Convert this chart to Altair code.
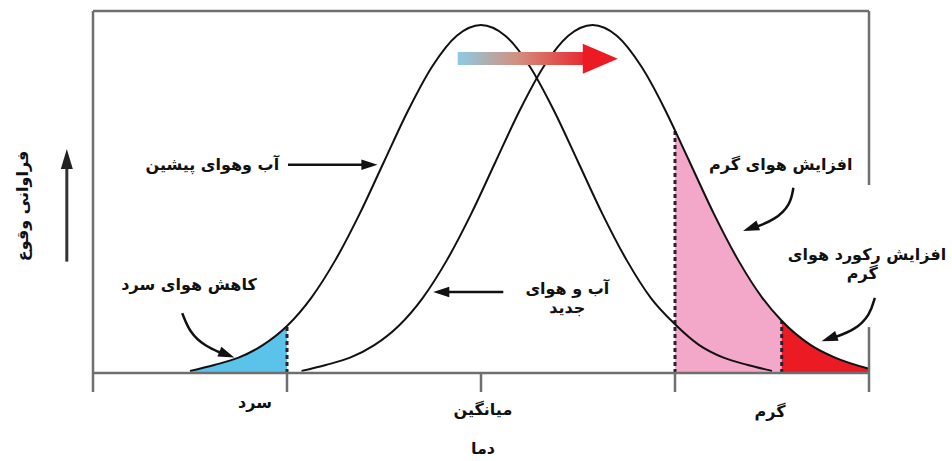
import altair as alt
import pandas as pd

# ---- curve samples (temperature in standard-deviation units, relative frequency) ----
old_x = [-3.0, -2.75, -2.5, -2.25, -2.0, -1.75, -1.5, -1.25, -1.0, -0.75, -0.5, -0.25,
         0.0, 0.25, 0.5, 0.75, 1.0, 1.25, 1.5, 1.75, 2.0, 2.25, 2.5, 2.75, 3.0]
old_y = [0.006, 0.023, 0.044, 0.080, 0.135, 0.216, 0.325, 0.458, 0.607, 0.755, 0.882, 0.969,
         1.0, 0.969, 0.882, 0.755, 0.607, 0.458, 0.325, 0.216, 0.140, 0.080, 0.044, 0.023, 0.006]

new_x = [-1.85, -1.6, -1.35, -1.1, -0.85, -0.6, -0.35, -0.1, 0.15, 0.4, 0.65, 0.9,
         1.15, 1.4, 1.65, 1.9, 2.0, 2.15, 2.4, 2.65, 2.9, 3.1, 3.4, 3.65, 4.0]
new_y = [0.006, 0.023, 0.044, 0.080, 0.135, 0.216, 0.325, 0.458, 0.607, 0.755, 0.882, 0.969,
         1.0, 0.969, 0.882, 0.755, 0.697, 0.607, 0.458, 0.325, 0.216, 0.150, 0.080, 0.044, 0.012]

# shaded tails: cold (old curve), hot and record hot (new curve)
cold_lo, cold_hi = -3.0, -2.0
hot_lo, hot_hi = 2.0, 3.1
rec_lo, rec_hi = 3.1, 4.0

# axis
tick_pos = [-4, -2, 0, 2, 4]
cat_labels = ["سرد", "میانگین", "گرم"]
cat_x = [-2.33, 0.02, 2.98]
x_title = "دما"
y_title = "فراوانی وقوع"

# annotations
note_text = ["آب وهوای پیشین", "کاهش هوای سرد", "آب و هوای", "جدید",
             "افزایش هوای گرم", "افزایش رکورد هوای", "گرم"]
note_x = [-2.77, -3.01, 0.89, 0.89, 3.09, 3.98, 3.93]
note_y = [0.598, 0.253, 0.241, 0.188, 0.598, 0.339, 0.284]

# pointer arrows (polyline points + head direction in degrees, clockwise from up)
ptr_id = ["a", "a", "b", "b", "c", "c", "c", "c", "d", "d", "d", "d", "e", "e", "e", "e"]
ptr_x = [-1.99, -1.20, 0.23, -0.36, -3.08, -3.0, -2.85, -2.66, 3.22, 3.19, 3.03, 2.82,
         4.06, 4.01, 3.86, 3.63]
ptr_y = [0.598, 0.598, 0.233, 0.233, 0.172, 0.115, 0.078, 0.055, 0.532, 0.483, 0.44, 0.418,
         0.216, 0.167, 0.124, 0.101]
head_x = [-1.15, -0.41, -2.62, 2.78, 3.59]
head_y = [0.598, 0.233, 0.053, 0.416, 0.099]
head_angle = [90, 270, 112, 250, 251]

X = alt.Scale(domain=[-4, 4], nice=False, zero=False)
Y = alt.Scale(domain=[0, 1.04], nice=False, zero=False)
TIP = -0.0546  # bottom end of the tick marks

FONT = "DejaVu Sans"
INK = "#111111"
FRAME = "#6f6f6f"
FS = 16

old_df = pd.DataFrame({"x": old_x, "y": old_y})
new_df = pd.DataFrame({"x": new_x, "y": new_y})


def xq(field="x"):
    return alt.X(f"{field}:Q", scale=X, axis=None)


def yq(field="y"):
    return alt.Y(f"{field}:Q", scale=Y, axis=None)


def tail(df, lo, hi, color):
    part = df[(df.x >= lo) & (df.x <= hi)]
    return alt.Chart(part).mark_area(color=color, interpolate="monotone", opacity=1).encode(
        x=xq(), y=yq())


cold = tail(old_df, cold_lo, cold_hi, "#5bc2ea")
hot = tail(new_df, hot_lo, hot_hi, "#f4a8c9")
rec = tail(new_df, rec_lo, rec_hi, "#ec1a22")

old_line = alt.Chart(old_df).mark_line(color=INK, strokeWidth=2, interpolate="monotone").encode(
    x=xq(), y=yq())
new_line = alt.Chart(new_df).mark_line(color=INK, strokeWidth=2, interpolate="monotone").encode(
    x=xq(), y=yq())

# dotted boundaries of the shaded tails
bound_df = pd.DataFrame({
    "x": [cold_hi, hot_lo, rec_lo],
    "y": [0.0, 0.0, 0.0],
    "y2": [old_y[old_x.index(cold_hi)], new_y[new_x.index(hot_lo)], new_y[new_x.index(rec_lo)]],
})
bounds = alt.Chart(bound_df).mark_rule(color="#2a2030", strokeWidth=3, strokeDash=[4, 3]).encode(
    x=xq(), y=yq(), y2="y2:Q")

# frame: top, left, baseline, broken right edge, ticks
frame_df = pd.DataFrame({
    "x": [-4, -4, -4, 4, 4, -2, 0, 2],
    "x2": [4, -4, 4, 4, 4, -2, 0, 2],
    "y": [1.04, TIP, 0.0, 0.54, TIP, TIP, TIP, TIP],
    "y2": [1.04, 1.04, 0.0, 1.04, 0.132, 0.0, 0.0, 0.0],
})
frame = alt.Chart(frame_df).mark_rule(color=FRAME, strokeWidth=2.5).encode(
    x=xq(), x2="x2:Q", y=yq(), y2="y2:Q")

# shift arrow with a blue-to-red gradient
shaft_df = pd.DataFrame({"x": [-0.24], "x2": [1.12], "y": [0.885], "y2": [0.922]})
shaft = alt.Chart(shaft_df).mark_rect(
    color=alt.Gradient(
        gradient="linear", x1=0, y1=0, x2=1, y2=0,
        stops=[alt.GradientStop(color="#8ccbe2", offset=0),
               alt.GradientStop(color="#d2907f", offset=0.45),
               alt.GradientStop(color="#e8232a", offset=1)]),
).encode(x=xq(), x2="x2:Q", y=yq(), y2="y2:Q")
shift_head = alt.Chart(pd.DataFrame({"x": [1.23], "y": [0.903]})).mark_point(
    shape="M -1 -0.86 L 1 0 L -1 0.86 Z", filled=True, fill="#ec1a22",
    size=1225, opacity=1).encode(x=xq(), y=yq())

# pointer arrows
ptr_df = pd.DataFrame({"id": ptr_id, "x": ptr_x, "y": ptr_y,
                       "o": list(range(len(ptr_id)))})
pointers = alt.Chart(ptr_df).mark_line(color=INK, strokeWidth=2.5, interpolate="basis").encode(
    x=xq(), y=yq(), detail="id:N", order="o:Q")
heads = alt.Chart(pd.DataFrame({"x": head_x, "y": head_y, "a": head_angle})).mark_point(
    shape="M -0.65 1 L 0 -1 L 0.65 1 Z", filled=True, fill=INK, size=260,
    opacity=1).encode(x=xq(), y=yq(), angle=alt.Angle("a:Q", scale=None))

# vertical arrow beside the frequency label
yarrow = alt.Chart(pd.DataFrame({"x": [-4.27], "y": [0.32], "y2": [0.60]})).mark_rule(
    color="#333333", strokeWidth=3).encode(x=xq(), y=yq(), y2="y2:Q")
yarrow_head = alt.Chart(pd.DataFrame({"x": [-4.27], "y": [0.615]})).mark_point(
    shape="M -0.6 1 L 0 -1 L 0.6 1 Z", filled=True, fill="#222222", size=400,
    opacity=1).encode(x=xq(), y=yq())


def label(df, **kw):
    return alt.Chart(df).mark_text(
        font=FONT, fontSize=FS, fontWeight="bold", color=INK, baseline="middle",
        align="center", **kw).encode(x=xq(), y=yq(), text="t:N")


notes = label(pd.DataFrame({"t": note_text, "x": note_x, "y": note_y}))
cats = label(pd.DataFrame({"t": cat_labels, "x": cat_x, "y": [-0.086, -0.106, -0.112]}))
titles = label(pd.DataFrame({"t": [x_title], "x": [0.02], "y": [-0.218]}))
ytitle = label(pd.DataFrame({"t": [y_title], "x": [-4.72], "y": [0.48]}), angle=270)

chart = alt.layer(
    cold, hot, rec, bounds, old_line, new_line, frame, shaft, shift_head,
    pointers, heads, yarrow, yarrow_head, notes, cats, titles, ytitle,
).properties(
    width=776, height=362,
    autosize=alt.AutoSizeParams(type="none"),
    padding={"left": 93, "top": 11, "right": 83, "bottom": 88},
    background="white",
).configure_view(stroke=None)

chart.save("out.html", embed_options={"renderer": "svg", "actions": False})
